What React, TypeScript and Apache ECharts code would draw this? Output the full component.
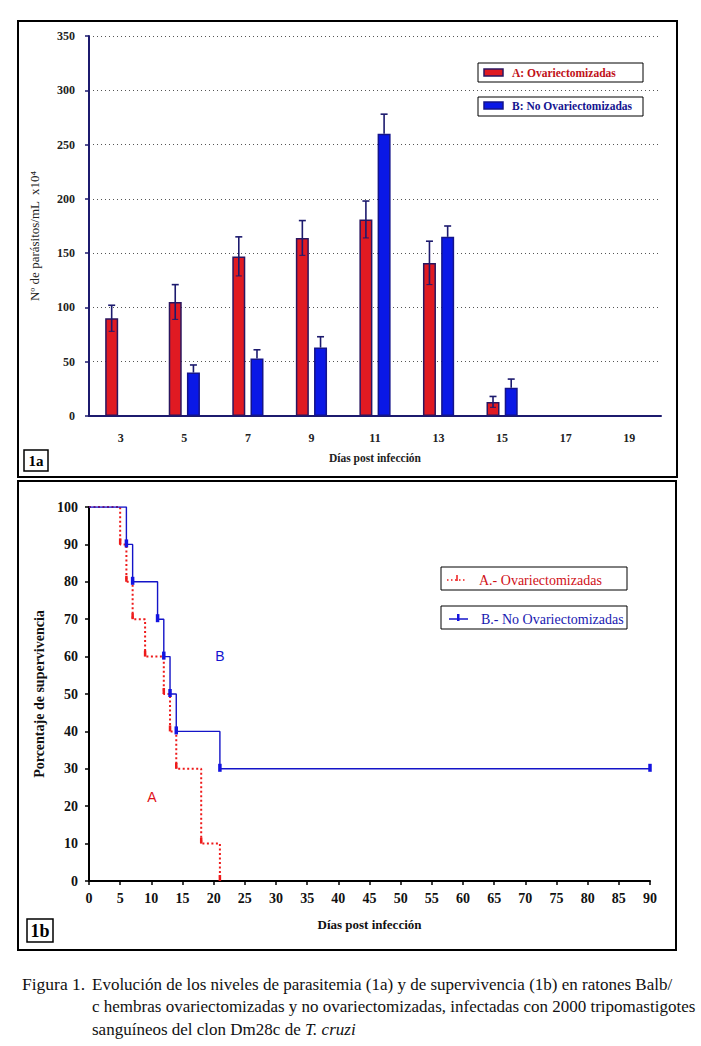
import React, { useEffect, useRef } from "react";
import * as echarts from "echarts";

// ---- Figure 1a: parasitemia ----
const days = ["3", "5", "7", "9", "11", "13", "15", "17", "19"];
const ovxMean = [90, 105, 147, 164, 181, 141, 13, null, null];
const ovxErr = [12, 16, 18, 16, 17, 20, 5, null, null];
const intactMean = [null, 40, 53, 63, 260, 165, 26, null, null];
const intactErr = [null, 7, 8, 10, 18, 10, 8, null, null];

// ---- Figure 1b: survival (Kaplan-Meier) ----
const survDaysA = [0, 5, 6, 7, 9, 12, 13, 14, 18, 21];
const survA = [100, 90, 80, 70, 60, 50, 40, 30, 10, 0];
const survDaysB = [0, 6, 7, 11, 12, 13, 14, 21, 90];
const survB = [100, 90, 80, 70, 60, 50, 40, 30, 30];

const legendA1 = "A: Ovariectomizadas";
const legendB1 = "B: No Ovariectomizadas";
const legendA2 = "A.- Ovariectomizadas";
const legendB2 = "B.- No Ovariectomizadas";
const captionLines = [
  "Evolución de los niveles de parasitemia (1a) y de supervivencia (1b) en ratones Balb/",
  "c hembras ovariectomizadas y no ovariectomizadas, infectadas con 2000 tripomastigotes",
  "sanguíneos del clon Dm28c de {i|T. cruzi}",
];

const SERIF = "'Liberation Serif', 'Times New Roman', serif";
const SANS = "'Liberation Sans', Arial, sans-serif";
const NAVY = "#1c1a6e";
const RED = "#e01a22";
const BLUE = "#0a18e6";

export default function App() {
  const ref = useRef<HTMLDivElement>(null);
  useEffect(() => {
    if (!ref.current) return;
    const chart = echarts.init(ref.current, null, { renderer: "svg" });

    const errData: any[] = [];
    ovxMean.forEach((m, i) => {
      if (m != null && ovxErr[i] != null) errData.push([i, m, ovxErr[i], -9.1, 1]);
    });
    intactMean.forEach((m, i) => {
      if (m != null && intactErr[i] != null) errData.push([i, m, intactErr[i], 9.1, 0]);
    });

    const lineA = survDaysA.map((d, i) => ({
      value: [d, survA[i]],
      symbol: i === 0 ? "none" : "rect",
    }));
    const lineB = survDaysB.map((d, i) => ({
      value: [d, survB[i]],
      symbol: i === 0 ? "none" : "rect",
    }));

    const option: any = {
      animation: false,
      backgroundColor: "#fff",
      textStyle: { fontFamily: SERIF },
      grid: [
        { left: 89, right: 40, top: 36, height: 380 },
        { left: 89, width: 561, top: 507, height: 374 },
      ],
      xAxis: [
        {
          gridIndex: 0,
          type: "category",
          data: days,
          name: "Días post infección",
          nameLocation: "middle",
          nameGap: 36,
          nameTextStyle: { fontFamily: SERIF, fontWeight: "bold", fontSize: 11.5, color: "#222" },
          axisLine: { lineStyle: { color: NAVY, width: 2 } },
          axisTick: { alignWithLabel: true, length: 4, lineStyle: { color: NAVY, width: 1.5 } },
          axisLabel: { fontFamily: SERIF, fontWeight: "bold", fontSize: 12, color: "#222", margin: 16 },
          splitLine: { show: false },
        },
        {
          gridIndex: 1,
          type: "value",
          min: 0,
          max: 90,
          interval: 5,
          name: "Días post infección",
          nameLocation: "middle",
          nameGap: 37,
          nameTextStyle: { fontFamily: SERIF, fontWeight: "bold", fontSize: 13, color: "#111" },
          axisLine: { lineStyle: { color: "#000", width: 2 } },
          axisTick: { length: 4, lineStyle: { color: "#000", width: 1.5 } },
          axisLabel: { fontFamily: SERIF, fontWeight: "bold", fontSize: 14, color: "#111", margin: 10 },
          splitLine: { show: false },
        },
      ],
      yAxis: [
        {
          gridIndex: 0,
          type: "value",
          min: 0,
          max: 350,
          interval: 50,
          axisLine: { show: true, lineStyle: { color: NAVY, width: 2 } },
          axisTick: { show: true, length: 4, lineStyle: { color: NAVY, width: 1.5 } },
          axisLabel: { fontFamily: SERIF, fontWeight: "bold", fontSize: 12, color: "#222", margin: 14 },
          splitLine: { show: true, lineStyle: { color: "#555", type: [1, 3], width: 1 } },
        },
        {
          gridIndex: 1,
          type: "value",
          min: 0,
          max: 100,
          interval: 10,
          name: "Porcentaje de supervivencia",
          nameLocation: "middle",
          nameGap: 42,
          nameTextStyle: { fontFamily: SERIF, fontWeight: "bold", fontSize: 14, color: "#111" },
          axisLine: { show: true, lineStyle: { color: "#000", width: 2 } },
          axisTick: { show: true, length: 4, lineStyle: { color: "#000", width: 1.5 } },
          axisLabel: { fontFamily: SERIF, fontWeight: "bold", fontSize: 14, color: "#111", margin: 11 },
          splitLine: { show: false },
        },
      ],
      series: [
        {
          name: legendA1,
          type: "bar",
          xAxisIndex: 0,
          yAxisIndex: 0,
          data: ovxMean,
          barWidth: 13,
          barGap: "40%",
          itemStyle: { color: RED, borderColor: "#2a1660", borderWidth: 1.5 },
        },
        {
          name: legendB1,
          type: "bar",
          xAxisIndex: 0,
          yAxisIndex: 0,
          data: intactMean,
          barWidth: 13,
          itemStyle: { color: BLUE, borderColor: "#14148a", borderWidth: 1.5 },
        },
        {
          type: "custom",
          xAxisIndex: 0,
          yAxisIndex: 0,
          data: errData,
          encode: { x: 0, y: 1 },
          z: 5,
          renderItem: (params: any, api: any) => {
            const i = api.value(0);
            const m = api.value(1);
            const e = api.value(2);
            const off = api.value(3);
            const lower = api.value(4);
            const top = api.coord([i, m + e]);
            const bot = api.coord([i, lower ? m - e : m]);
            const x = top[0] + off;
            const st = { stroke: NAVY, lineWidth: 1.6 };
            const children: any[] = [
              { type: "line", shape: { x1: x, y1: top[1], x2: x, y2: bot[1] }, style: st },
              { type: "line", shape: { x1: x - 3.5, y1: top[1], x2: x + 3.5, y2: top[1] }, style: st },
            ];
            if (lower) {
              children.push({
                type: "line",
                shape: { x1: x - 3, y1: bot[1], x2: x + 3, y2: bot[1] },
                style: { stroke: NAVY, lineWidth: 1 },
              });
            }
            return { type: "group", children };
          },
        },
        {
          name: legendA2,
          type: "line",
          xAxisIndex: 1,
          yAxisIndex: 1,
          step: "end",
          data: lineA,
          symbolSize: [2.5, 6],
          symbolOffset: [0, -3],
          lineStyle: { color: "#ee1a1a", width: 2, type: [2, 2.5] },
          itemStyle: { color: "#ee1a1a" },
          z: 3,
        },
        {
          name: legendB2,
          type: "line",
          xAxisIndex: 1,
          yAxisIndex: 1,
          step: "end",
          data: lineB,
          symbolSize: [3.5, 8],
          symbolOffset: [0, -1],
          lineStyle: { color: "#1414c8", width: 1.4 },
          itemStyle: { color: "#1414e0" },
          z: 4,
        },
      ],
      graphic: [
        // panel frames
        { type: "rect", shape: { x: 18, y: 21, width: 659, height: 456 }, style: { fill: "none", stroke: "#000", lineWidth: 2 } },
        { type: "rect", shape: { x: 18, y: 481, width: 658, height: 469 }, style: { fill: "none", stroke: "#000", lineWidth: 2 } },
        // top y-axis title
        {
          type: "text",
          x: 34,
          y: 236,
          rotation: Math.PI / 2,
          style: { text: "Nº de parásitos/mL  x10⁴", fontFamily: SERIF, fontSize: 13, fill: "#222", align: "center", verticalAlign: "middle" },
        },
        // panel tags
        { type: "rect", shape: { x: 24, y: 450, width: 24, height: 21 }, style: { fill: "#fff", stroke: "#000", lineWidth: 1.5 } },
        { type: "text", x: 36, y: 461, style: { text: "1a", fontFamily: SERIF, fontWeight: "bold", fontSize: 15, fill: "#000", align: "center", verticalAlign: "middle" } },
        { type: "rect", shape: { x: 27, y: 919, width: 26, height: 23 }, style: { fill: "#fff", stroke: "#000", lineWidth: 1.5 } },
        { type: "text", x: 40, y: 931, style: { text: "1b", fontFamily: SERIF, fontWeight: "bold", fontSize: 18, fill: "#000", align: "center", verticalAlign: "middle" } },
        // top legend
        { type: "rect", shape: { x: 478, y: 63, width: 165, height: 19 }, style: { fill: "#fff", stroke: "#000", lineWidth: 1 } },
        { type: "rect", shape: { x: 484, y: 69, width: 19, height: 7 }, style: { fill: RED, stroke: "#2a1660", lineWidth: 1.5 } },
        { type: "text", x: 512, y: 73, style: { text: legendA1, fontFamily: SERIF, fontWeight: "bold", fontSize: 11.5, fill: "#c01018", verticalAlign: "middle" } },
        { type: "rect", shape: { x: 478, y: 97, width: 165, height: 19 }, style: { fill: "#fff", stroke: "#000", lineWidth: 1 } },
        { type: "rect", shape: { x: 484, y: 102, width: 19, height: 7 }, style: { fill: BLUE, stroke: "#14148a", lineWidth: 1.5 } },
        { type: "text", x: 512, y: 106, style: { text: legendB1, fontFamily: SERIF, fontWeight: "bold", fontSize: 11.5, fill: "#141490", verticalAlign: "middle" } },
        // bottom legend
        { type: "rect", shape: { x: 441, y: 567, width: 186, height: 23 }, style: { fill: "#fff", stroke: "#000", lineWidth: 1 } },
        { type: "line", shape: { x1: 447, y1: 580, x2: 466, y2: 580 }, style: { stroke: "#ee1a1a", lineWidth: 1.5, lineDash: [1.5, 2.5] } },
        { type: "line", shape: { x1: 457, y1: 575, x2: 457, y2: 581 }, style: { stroke: "#ee1a1a", lineWidth: 1.5 } },
        { type: "text", x: 479, y: 580, style: { text: legendA2, fontFamily: SERIF, fontSize: 14, fill: "#d01018", verticalAlign: "middle" } },
        { type: "rect", shape: { x: 441, y: 606, width: 186, height: 23 }, style: { fill: "#fff", stroke: "#000", lineWidth: 1 } },
        { type: "line", shape: { x1: 449, y1: 619, x2: 468, y2: 619 }, style: { stroke: "#1414c8", lineWidth: 1.5 } },
        { type: "rect", shape: { x: 457, y: 614, width: 2.5, height: 7 }, style: { fill: "#1414e0" } },
        { type: "text", x: 481, y: 619, style: { text: legendB2, fontFamily: SERIF, fontSize: 14, fill: "#1818b0", verticalAlign: "middle" } },
        // curve annotations
        { type: "text", x: 220, y: 656, style: { text: "B", fontFamily: SANS, fontSize: 14, fill: "#1414d0", align: "center", verticalAlign: "middle" } },
        { type: "text", x: 152, y: 797, style: { text: "A", fontFamily: SANS, fontSize: 14, fill: "#e01018", align: "center", verticalAlign: "middle" } },
        // caption
        { type: "text", x: 22, y: 984, style: { text: "Figura 1.", fontFamily: SERIF, fontSize: 17.5, fill: "#111", verticalAlign: "middle" } },
        ...captionLines.map((t, k) => ({
          type: "text",
          x: 92,
          y: 984 + k * 22.5,
          style: {
            text: t,
            fontFamily: SERIF,
            fontSize: 17,
            fill: "#111",
            verticalAlign: "middle",
            rich: { i: { fontStyle: "italic", fontFamily: SERIF, fontSize: 17, fill: "#111" } },
          },
        })),
      ],
    };
    chart.setOption(option);
    return () => chart.dispose();
  }, []);

  return (
    <div
      ref={ref}
      style={{ position: "absolute", left: 0, top: 0, width: 701, height: 1046, background: "#fff" }}
    />
  );
}
